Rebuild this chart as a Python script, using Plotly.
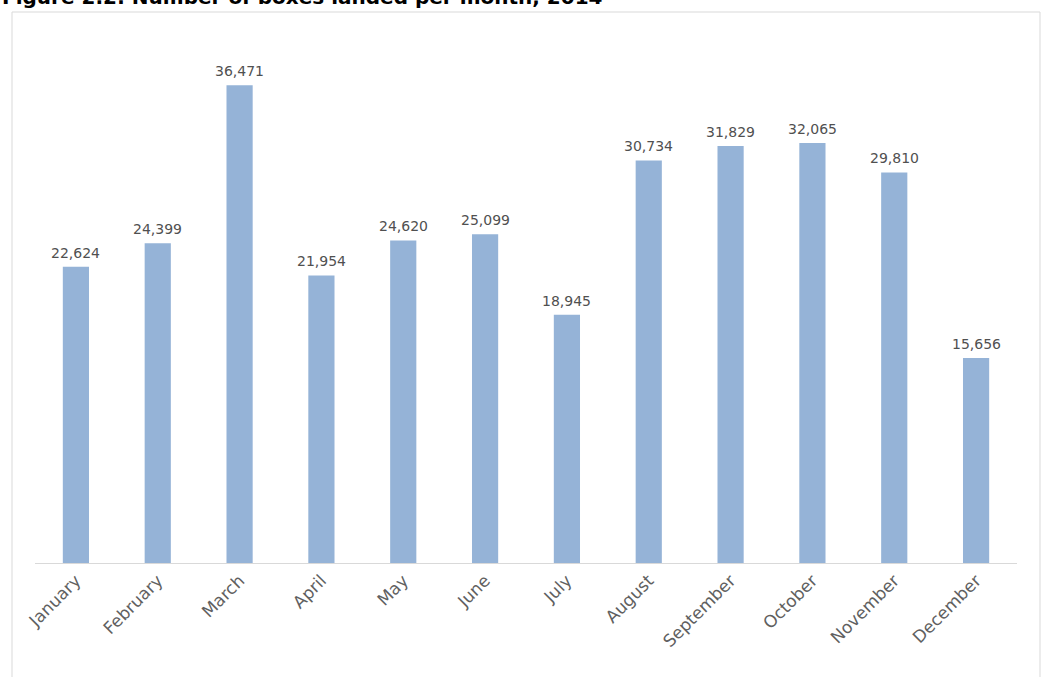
import plotly.graph_objects as go

months = ["January", "February", "March", "April", "May", "June", "July",
          "August", "September", "October", "November", "December"]
boxes = [22624, 24399, 36471, 21954, 24620, 25099, 18945,
         30734, 31829, 32065, 29810, 15656]
title_text = "Figure 2.2: Number of boxes landed per month, 2014"

W, H = 1043, 677
L, R, T, B = 35, 26, 39, 114
pw = W - L - R
ph = H - T - B

def px(x):
    return (x - L) / pw

def py(y):
    return 1 + (T - y) / ph

font_family = "DejaVu Sans"

fig = go.Figure()
fig.add_trace(go.Bar(
    x=months, y=boxes,
    marker=dict(color="#95B3D7", line=dict(width=0)),
    width=0.32,
))

label_annotations = [
    dict(x=m, y=v, xref="x", yref="y", text=f"{v:,}", showarrow=False,
         xanchor="center", yanchor="bottom", yshift=4,
         font=dict(family=font_family, size=14, color="#505050"))
    for m, v in zip(months, boxes)
]

fig.update_layout(
    width=W, height=H,
    margin=dict(l=L, r=R, t=T, b=B, autoexpand=False),
    paper_bgcolor="white", plot_bgcolor="white",
    showlegend=False,
    xaxis=dict(
        showline=True, linecolor="#d9d9d9", linewidth=1,
        ticks="", showgrid=False, tickangle=-45,
        tickfont=dict(family=font_family, size=17, color="#606060"),
    ),
    yaxis=dict(range=[0, 40000], visible=False, showgrid=False, zeroline=False),
    shapes=[dict(type="rect", xref="paper", yref="paper",
                 x0=px(12), x1=px(1040), y0=py(690), y1=py(12),
                 line=dict(color="#d9d9d9", width=1), fillcolor="rgba(0,0,0,0)",
                 layer="below")],
    annotations=label_annotations + [
        dict(text=f"<b>{title_text}</b>", xref="paper", yref="paper",
             x=px(0), y=py(11), xanchor="left", yanchor="bottom",
             showarrow=False,
             font=dict(family="DejaVu Sans", size=20, color="black"))],
)

fig.write_html("out.html")
